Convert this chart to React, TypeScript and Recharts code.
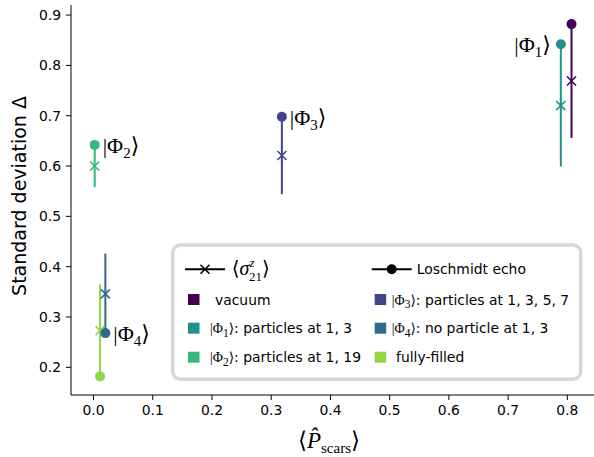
import { ErrorBar, Scatter, ScatterChart, XAxis, YAxis } from 'recharts'

// one entry per initial state, same order in every array
const STATES = ['vacuum', 'Φ1', 'Φ2', 'Φ3', 'Φ4', 'fully-filled']
const KET_INDEX = ['', '1', '2', '3', '4', '']
const STATE_TEXT = ['vacuum', ': particles at 1, 3', ': particles at 1, 19', ': particles at 1, 3, 5, 7', ': no particle at 1, 3', 'fully-filled']
const P_SCARS = [0.807, 0.789, 0.002, 0.318, 0.02, 0.011]
const ECHO = [0.882, 0.842, 0.642, 0.698, 0.268, 0.182]
const SIGMA = [0.769, 0.72, 0.6, 0.621, 0.346, 0.273]
const SIGMA_ERR = [0.113, 0.121, 0.042, 0.077, 0.08, 0.092]
const X_TICKS = [0, 0.1, 0.2, 0.3, 0.4, 0.5, 0.6, 0.7, 0.8]
const Y_TICKS = [0.2, 0.3, 0.4, 0.5, 0.6, 0.7, 0.8, 0.9]

// viridis picks, matching STATES order
const COLORS = ['#440154', '#21918c', '#35b779', '#414487', '#31688e', '#90d743']
const LABEL_LEFT = [false, true, false, false, false, false]

const X_DOMAIN = [-0.038, 0.845]
const Y_DOMAIN = [0.145, 0.92]
const SANS = 'DejaVu Sans'
const SERIF = 'Liberation Serif, DejaVu Serif, serif'
// thin angle brackets, closer to the TeX ones
const BRACKET = 'DejaVu Sans ExtraLight, DejaVu Serif, serif'
const TICK = { fill: '#000', fontSize: 13.9, fontFamily: SANS }

const Ket = ({ n, size, sub }: { n: string; size: number; sub: number }) => (
  <>
    <tspan fontFamily={SERIF}>|Φ</tspan>
    <tspan fontFamily={SERIF} fontSize={sub} dy={size * 0.22}>{n}</tspan>
    <tspan fontFamily={BRACKET} dy={-size * 0.22}>⟩</tspan>
  </>
)

const crossShape = (color: string) => (p: any) => (
  <g stroke={color} strokeWidth={1.6}>
    <line x1={p.cx - 4.5} y1={p.cy - 4.5} x2={p.cx + 4.5} y2={p.cy + 4.5} />
    <line x1={p.cx - 4.5} y1={p.cy + 4.5} x2={p.cx + 4.5} y2={p.cy - 4.5} />
  </g>
)

const dotShape = (i: number) => (p: any) => {
  const left = LABEL_LEFT[i]
  return (
    <g>
      <circle cx={p.cx} cy={p.cy} r={5} fill={COLORS[i]} />
      {KET_INDEX[i] && (
        <text x={left ? p.cx - 10 : p.cx + 8} y={p.cy + 8} fontSize={22} fill="#000"
          textAnchor={left ? 'end' : 'start'}>
          <Ket n={KET_INDEX[i]} size={22} sub={15} />
        </text>
      )}
    </g>
  )
}

const xLabel = () => (
  <text x={329} y={448} textAnchor="middle" fontSize={23} fontFamily={SERIF} fill="#000">
    <tspan fontFamily={BRACKET}>⟨</tspan>
    <tspan fontStyle="italic">P̂</tspan>
    <tspan fontSize={15} dy={5}>scars</tspan>
    <tspan fontFamily={BRACKET} dy={-5}>⟩</tspan>
  </text>
)

const yLabel = () => (
  <text x={19} y={196} transform="rotate(-90 19 196)" textAnchor="middle" dominantBaseline="central"
    fontSize={19} fontFamily={SANS} fill="#000">
    Standard deviation Δ
  </text>
)

function LegendBox() {
  const rows = [269.3, 299, 327.7, 356.7]
  const cols = [185, 371.7]
  return (
    <svg width={594} height={457} style={{ position: 'absolute', left: 0, top: 0, pointerEvents: 'none' }}>
      <rect x={172.7} y={245} width={408} height={134.3} rx={8} fill="#fff" fillOpacity={0.85}
        stroke="#d6d6d6" strokeWidth={3.5} />
      {/* header: marker styles */}
      <line x1={cols[0]} x2={cols[0] + 40} y1={rows[0]} y2={rows[0]} stroke="#000" strokeWidth={2} />
      {crossShape('#000')({ cx: cols[0] + 20, cy: rows[0] })}
      <text x={231.7} y={rows[0] + 6} fontSize={20} fontFamily={SERIF} fill="#000">
        <tspan fontFamily={BRACKET}>⟨</tspan>
        <tspan fontStyle="italic">σ</tspan>
        <tspan fontSize={13} fontStyle="italic" dy={-8}>z</tspan>
        <tspan fontSize={13} dx={-5.5} dy={14}>21</tspan>
        <tspan fontFamily={BRACKET} dy={-6}>⟩</tspan>
      </text>
      <line x1={cols[1]} x2={cols[1] + 40} y1={rows[0]} y2={rows[0]} stroke="#000" strokeWidth={2} />
      <circle cx={cols[1] + 20} cy={rows[0]} r={5} fill="#000" />
      <text x={416.7} y={rows[0] + 5} fontSize={13.9} fontFamily={SANS} fill="#000">Loschmidt echo</text>
      {STATES.map((s, i) => {
        const c = i < 3 ? 0 : 1
        const y = rows[1 + (i % 3)]
        const x0 = cols[c] + 3
        const math = KET_INDEX[i] !== ''
        const tx = c === 0 ? (math ? 210 : 215) : math ? 391.7 : 396
        return (
          <g key={s}>
            <rect x={x0} y={y - 5} width={11.5} height={11} fill={COLORS[i]} />
            <text x={tx} y={y + 5.5} fontSize={13.9} fontFamily={SANS} fill="#000">
              {math && <Ket n={KET_INDEX[i]} size={17} sub={11.5} />}
              {STATE_TEXT[i]}
            </text>
          </g>
        )
      })}
    </svg>
  )
}

export default function App() {
  return (
    <div style={{ position: 'absolute', left: 0, top: 0, width: 594, height: 457, background: '#fff' }}>
      <ScatterChart width={594} height={457} margin={{ top: 5, right: 0, bottom: 0, left: 0 }}>
        <XAxis
          type="number"
          dataKey="x"
          domain={X_DOMAIN}
          ticks={X_TICKS}
          allowDataOverflow
          tickFormatter={(v) => v.toFixed(1)}
          tick={TICK}
          tickSize={5}
          tickMargin={5}
          stroke="#000"
          height={62}
          label={xLabel}
        />
        <XAxis xAxisId="top" orientation="top" type="number" domain={X_DOMAIN} allowDataOverflow
          height={0} tick={false} tickLine={false} stroke="#000" />
        <YAxis
          type="number"
          dataKey="y"
          domain={Y_DOMAIN}
          ticks={Y_TICKS}
          allowDataOverflow
          tickFormatter={(v) => v.toFixed(1)}
          tick={TICK}
          tickSize={5}
          tickMargin={5}
          stroke="#000"
          width={71}
          label={yLabel}
        />
        {STATES.map((s, i) => (
          <Scatter key={'sigma-' + s} data={[{ x: P_SCARS[i], y: SIGMA[i], err: SIGMA_ERR[i] }]}
            shape={crossShape(COLORS[i])} isAnimationActive={false}>
            <ErrorBar dataKey="err" direction="y" width={0} stroke={COLORS[i]} strokeWidth={2} />
          </Scatter>
        ))}
        {STATES.map((s, i) => (
          <Scatter key={'echo-' + s} data={[{ x: P_SCARS[i], y: ECHO[i] }]}
            shape={dotShape(i)} isAnimationActive={false} />
        ))}
      </ScatterChart>
      <LegendBox />
    </div>
  )
}
